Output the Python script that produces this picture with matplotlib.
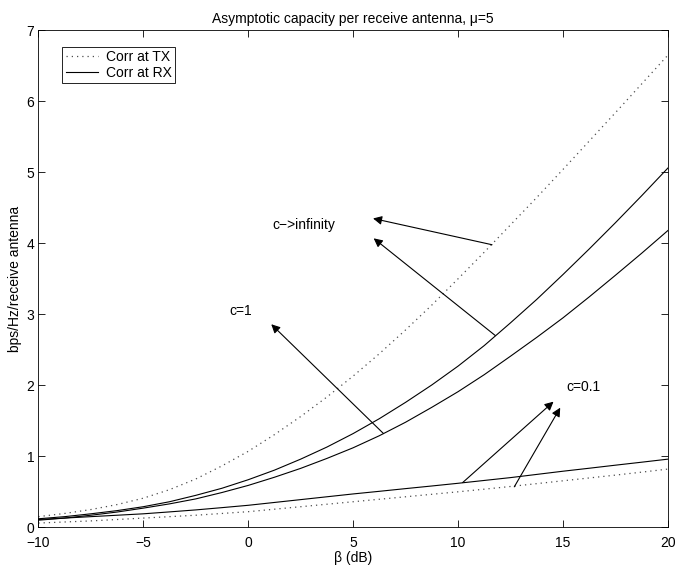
import matplotlib
matplotlib.use("Agg")
import matplotlib.pyplot as plt

plt.rcParams['font.family'] = ['Liberation Sans', 'DejaVu Sans']

# beta en dB (eje x)
beta_db = [-10, -8.75, -7.5, -6.25, -5, -3.75, -2.5, -1.25, 0, 1.25, 2.5, 3.75, 5,
           6.25, 7.5, 8.75, 10, 11.25, 12.5, 13.75, 15, 16.25, 17.5, 18.75, 20]

# Corr at TX (punteadas)
tx_c_inf = [0.15, 0.195, 0.25, 0.32, 0.41, 0.53, 0.68, 0.865, 1.07, 1.305, 1.56, 1.835, 2.13,
            2.445, 2.78, 3.13, 3.50, 3.875, 4.26, 4.645, 5.04, 5.44, 5.84, 6.245, 6.65]
tx_c_01 = [0.06, 0.075, 0.09, 0.11, 0.13, 0.15, 0.17, 0.195, 0.22, 0.255, 0.29, 0.325, 0.36,
           0.395, 0.43, 0.465, 0.50, 0.537, 0.575, 0.615, 0.655, 0.695, 0.735, 0.777, 0.82]

# Corr at RX (continuas)
rx_c_inf = [0.12, 0.15, 0.19, 0.235, 0.29, 0.36, 0.45, 0.55, 0.67, 0.805, 0.96, 1.13, 1.32,
            1.53, 1.76, 2.005, 2.27, 2.56, 2.88, 3.21, 3.56, 3.92, 4.29, 4.67, 5.06]
rx_c_1 = [0.10, 0.13, 0.17, 0.215, 0.27, 0.33, 0.40, 0.49, 0.59, 0.705, 0.83, 0.97, 1.12,
          1.29, 1.48, 1.69, 1.91, 2.15, 2.41, 2.675, 2.95, 3.245, 3.55, 3.86, 4.18]
rx_c_01 = [0.11, 0.13, 0.15, 0.17, 0.19, 0.217, 0.245, 0.277, 0.31, 0.35, 0.39, 0.43, 0.47,
           0.507, 0.545, 0.582, 0.62, 0.66, 0.70, 0.745, 0.79, 0.832, 0.875, 0.917, 0.96]

# etiquetas y flechas: (texto, posicion texto, [(cola, punta), ...])
etiquetas = [
    ("c\u2212>infinity", (1.14, 4.26), [((11.62, 3.98), (5.95, 4.35)),
                                        ((11.78, 2.70), (5.98, 4.07))]),
    ("c=1", (-0.89, 3.05), [((6.45, 1.32), (1.10, 2.86))]),
    ("c=0.1", (15.16, 1.97), [((10.22, 0.63), (14.55, 1.77)),
                              ((12.68, 0.57), (14.87, 1.685))]),
]

fig = plt.figure(figsize=(6.76, 5.70), dpi=100)
ax = fig.add_axes([0.0567, 0.0749, 0.9313, 0.8719])

punteado = dict(color='0.3', lw=0.9, ls=(0, (1, 3.2)))
continuo = dict(color='k', lw=0.8)

ax.plot(beta_db, tx_c_inf, label='Corr at TX', **punteado)
ax.plot(beta_db, rx_c_inf, label='Corr at RX', **continuo)
ax.plot(beta_db, rx_c_1, **continuo)
ax.plot(beta_db, rx_c_01, **continuo)
ax.plot(beta_db, tx_c_01, **punteado)

for texto, pos, flechas in etiquetas:
    ax.text(pos[0], pos[1], texto, fontsize=10, ha='left', va='center')
    for cola, punta in flechas:
        ax.annotate('', xy=punta, xytext=cola,
                    arrowprops=dict(arrowstyle='-|>', color='k', lw=0.8,
                                    mutation_scale=13, shrinkA=0, shrinkB=0))

ax.set_xlim(-10, 20)
ax.set_ylim(0, 7)
ax.set_xticks(range(-10, 21, 5))
ax.set_yticks(range(0, 8))
ax.tick_params(direction='in', top=True, right=True, labelsize=10, length=5, width=0.6)
ax.tick_params(axis='x', pad=6)
ax.tick_params(axis='y', pad=3)
ax.set_xticklabels([str(v).replace('-', '\u2212') for v in range(-10, 21, 5)])
for s in ax.spines.values():
    s.set_linewidth(0.6)

ax.set_title('Asymptotic capacity per receive antenna, \u03bc=5', fontsize=10, pad=5)
ax.set_xlabel('\u03b2 (dB)', fontsize=10, labelpad=1)
ax.set_ylabel('bps/Hz/receive antenna', fontsize=10, labelpad=3)

leg = ax.legend(loc='upper left', bbox_to_anchor=(0.038, 0.967), fontsize=10,
                frameon=True, fancybox=False, framealpha=1, borderaxespad=0,
                handlelength=2.3, borderpad=0.25, labelspacing=0.1, handletextpad=0.6)
leg.get_frame().set_edgecolor('k')
leg.get_frame().set_linewidth(0.6)

fig.savefig('out.png', dpi=100)
